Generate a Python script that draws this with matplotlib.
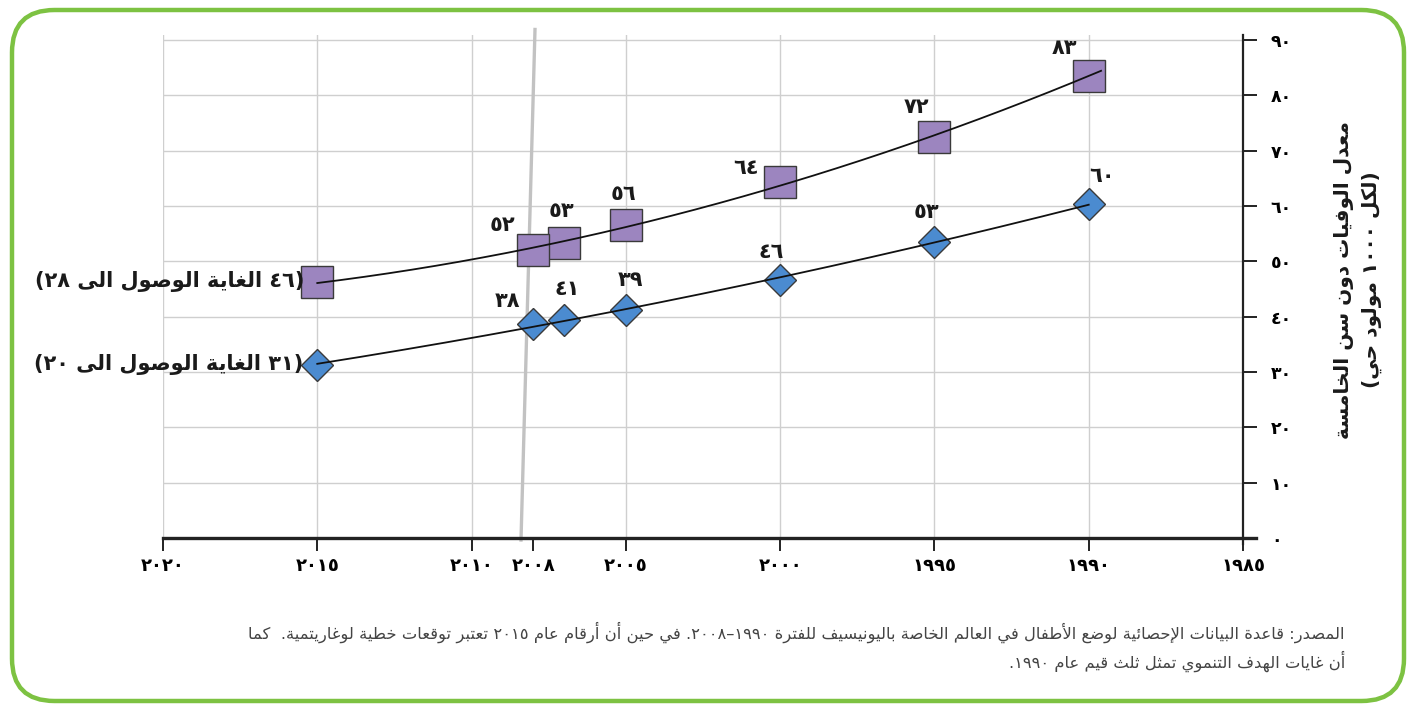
import numpy as np
import matplotlib
matplotlib.use("Agg")
import matplotlib.pyplot as plt
from matplotlib.patches import FancyBboxPatch
from matplotlib.lines import Line2D

# data
years = [1990, 1995, 2000, 2005, 2007, 2008, 2015]
u5mr_purple = [83.5, 72.5, 64.3, 56.5, 53.3, 52.0, 46.3]
u5mr_blue = [60.3, 53.5, 46.7, 41.2, 39.4, 38.6, 31.3]
purple_labels = ["٨٣", "٧٢", "٦٤", "٥٦", "٥٣", "٥٢", None]
blue_labels = ["٦٠", "٥٣", "٤٦", "٣٩", "٤١", "٣٨", None]
purple_goal = "(٤٦ الغاية الوصول الى ٢٨)"
blue_goal = "(٣١ الغاية الوصول الى ٢٠)"
x_ticks = [2020, 2015, 2010, 2008, 2005, 2000, 1995, 1990, 1985]
y_ticks = [0, 10, 20, 30, 40, 50, 60, 70, 80, 90]
ylabel_1 = "معدل الوفيات دون سن الخامسة"
ylabel_2 = "(لكل ١٠٠٠ مولود حي)"
note_1 = ("المصدر: قاعدة البيانات الإحصائية لوضع الأطفال في العالم الخاصة باليونيسيف للفترة "
          "١٩٩٠–٢٠٠٨. في حين أن أرقام عام ٢٠١٥ تعتبر توقعات خطية لوغاريتمية.  كما")
note_2 = "أن غايات الهدف التنموي تمثل ثلث قيم عام ١٩٩٠."

# --- tiny arabic shaper (no arabic_reshaper / bidi available) ---
_letters = [("ء", 1), ("آ", 2), ("أ", 2), ("ؤ", 2), ("إ", 2), ("ئ", 4), ("ا", 2),
            ("ب", 4), ("ة", 2), ("ت", 4), ("ث", 4), ("ج", 4), ("ح", 4), ("خ", 4),
            ("د", 2), ("ذ", 2), ("ر", 2), ("ز", 2), ("س", 4), ("ش", 4), ("ص", 4),
            ("ض", 4), ("ط", 4), ("ظ", 4), ("ع", 4), ("غ", 4), ("ف", 4), ("ق", 4),
            ("ك", 4), ("ل", 4), ("م", 4), ("ن", 4), ("ه", 4), ("و", 2), ("ى", 2), ("ي", 4)]
FORMS = {}
cp = 0xFE80
for ch, n in _letters:
    FORMS[ch] = [chr(cp + k) for k in range(n)]
    cp += n
LAMALEF = {"آ": ("\uFEF5", "\uFEF6"), "أ": ("\uFEF7", "\uFEF8"),
           "إ": ("\uFEF9", "\uFEFA"), "ا": ("\uFEFB", "\uFEFC")}
DIGITS = set("٠١٢٣٤٥٦٧٨٩0123456789")
MIRROR = {"(": ")", ")": "("}


def shape(text):
    chars = list(text)
    n = len(chars)
    dual = lambda c: c in FORMS and len(FORMS[c]) == 4
    res = []
    i = 0
    while i < n:
        c = chars[i]
        if c not in FORMS:
            res.append(c)
            i += 1
            continue
        prev = chars[i - 1] if i > 0 else ""
        jp = dual(prev)
        if c == "ل" and i + 1 < n and chars[i + 1] in LAMALEF:
            lig = LAMALEF[chars[i + 1]]
            res.append(lig[1] if jp else lig[0])
            i += 2
            continue
        nxt = chars[i + 1] if i + 1 < n else ""
        jn = dual(c) and nxt in FORMS
        f = FORMS[c]
        if len(f) == 1:
            g = f[0]
        elif len(f) == 2:
            g = f[1] if jp else f[0]
        else:
            g = f[3] if (jp and jn) else f[1] if jp else f[2] if jn else f[0]
        res.append(g)
        i += 1
    # visual order: reverse, keep digit runs LTR
    runs = []
    for ch in res:
        isd = ch in DIGITS
        if runs and runs[-1][0] == isd:
            runs[-1][1].append(ch)
        else:
            runs.append((isd, [ch]))
    out = ""
    for isd, r in reversed(runs):
        if isd:
            out += "".join(r)
        else:
            out += "".join(MIRROR.get(ch, ch) for ch in reversed(r))
    return out


def ar_digits(v):
    return "".join("٠١٢٣٤٥٦٧٨٩"[int(d)] for d in str(v))


plt.rcParams['font.family'] = ['DejaVu Sans']

W, H = 1416, 711
fig = plt.figure(figsize=(W / 100, H / 100), dpi=100)

# axes: 2020 at x=163, 1985 at x=1243 ; 0 at y=538, 91 at y=34.5
ax = fig.add_axes([163 / W, (H - 538) / H, 1080 / W, 503.5 / H])
ax.set_xlim(2020, 1985)
ax.set_ylim(0, 91)

for s in ["left", "top", "bottom", "right"]:
    ax.spines[s].set_visible(False)
ax.add_line(Line2D([0, 1.012], [0, 0], transform=ax.transAxes, color="#222222",
                   lw=2.4, clip_on=False, zorder=5))
ax.add_line(Line2D([1, 1], [-0.012, 1.0], transform=ax.transAxes, color="#222222",
                   lw=1.6, clip_on=False, zorder=5))

ax.yaxis.tick_right()
ax.set_xticks(x_ticks)
ax.set_xticklabels([ar_digits(v) for v in x_ticks], fontsize=13, fontweight="bold")
ax.set_yticks(y_ticks)
ax.set_yticklabels([ar_digits(v) for v in y_ticks], fontsize=12.5, fontweight="bold")
ax.tick_params(axis="x", direction="out", length=9, width=1.4, color="#222222", pad=5)
ax.tick_params(axis="y", direction="out", length=10, width=1.4, color="#222222", pad=10)
for lab in ax.get_yticklabels():
    lab.set_horizontalalignment("left")

# grid
for yv in y_ticks[1:]:
    ax.axhline(yv, color="#cfcfcf", lw=1.0, zorder=0)
for xv in x_ticks:
    if xv != 2008:
        ax.axvline(xv, color="#cfcfcf", lw=1.0, zorder=0, ymax=1.0)
ax.add_line(Line2D([(535 - 163) / 1080, (521 - 163) / 1080], [1.01, -0.004],
                   transform=ax.transAxes, color="#c2c2c2", lw=2.4, clip_on=False, zorder=1))

# fitted trend curves
yr = np.array(years, dtype=float)
xs_p = np.linspace(2015, 1989.6, 200)
xs_b = np.linspace(2015, 1990, 200)
cp_ = np.polyfit(yr, np.array(u5mr_purple), 2)
cb_ = np.polyfit(yr, np.array(u5mr_blue), 2)
ax.plot(xs_p, np.polyval(cp_, xs_p), color="#111111", lw=1.3, zorder=3)
ax.plot(xs_b, np.polyval(cb_, xs_b), color="#111111", lw=1.3, zorder=3)

ax.plot(years, u5mr_purple, linestyle="none", marker="s", ms=23, mfc="#9c85bf",
        mec="#3a3a3a", mew=1.0, zorder=2)
ax.plot(years, u5mr_blue, linestyle="none", marker="D", ms=16, mfc="#4b8bd0",
        mec="#3a3a3a", mew=1.0, zorder=2)

p_off = [(-24, 28), (-18, 30), (-34, 14), (-2, 31), (-3, 32), (-31, 25), None]
b_off = [(13, 28), (-8, 30), (-9, 28), (5, 30), (3, 31), (-26, 23), None]
for x, y, lab, off in zip(years, u5mr_purple, purple_labels, p_off):
    if lab:
        ax.annotate(lab, (x, y), xytext=off, textcoords="offset pixels",
                    ha="center", va="center", fontsize=15, fontweight="bold", color="#1a1a1a")
for x, y, lab, off in zip(years, u5mr_blue, blue_labels, b_off):
    if lab:
        ax.annotate(lab, (x, y), xytext=off, textcoords="offset pixels",
                    ha="center", va="center", fontsize=15, fontweight="bold", color="#1a1a1a")

ax.annotate(shape(purple_goal), (years[-1], u5mr_purple[-1]), xytext=(-13, 0),
            textcoords="offset pixels", ha="right", va="center", fontsize=15,
            fontweight="bold", color="#1a1a1a", annotation_clip=False)
ax.annotate(shape(blue_goal), (years[-1], u5mr_blue[-1]), xytext=(-14, 0),
            textcoords="offset pixels", ha="right", va="center", fontsize=15,
            fontweight="bold", color="#1a1a1a", annotation_clip=False)

# y label (two lines, rotated)
fig.text(1344 / W, 1 - 280 / H, shape(ylabel_1), rotation=90, ha="center", va="center",
         fontsize=14.5, fontweight="bold", color="#1a1a1a")
fig.text(1372 / W, 1 - 280 / H, shape(ylabel_2), rotation=90, ha="center", va="center",
         fontsize=14.5, fontweight="bold", color="#1a1a1a")

# footnote
fig.text(1345 / W, 1 - 632 / H, shape(note_1), ha="right", va="center", fontsize=11.8, color="#444444")
fig.text(1345 / W, 1 - 661 / H, shape(note_2), ha="right", va="center", fontsize=11.8, color="#444444")

# green rounded frame
frame = FancyBboxPatch((12 / W, 10 / H), (W - 24) / W, (H - 20) / H,
                       boxstyle="round,pad=0,rounding_size=0.03", transform=fig.transFigure,
                       fill=False, ec="#7dc242", lw=3.2, mutation_aspect=W / H)
fig.patches.append(frame)

fig.savefig("out.png", dpi=100)
